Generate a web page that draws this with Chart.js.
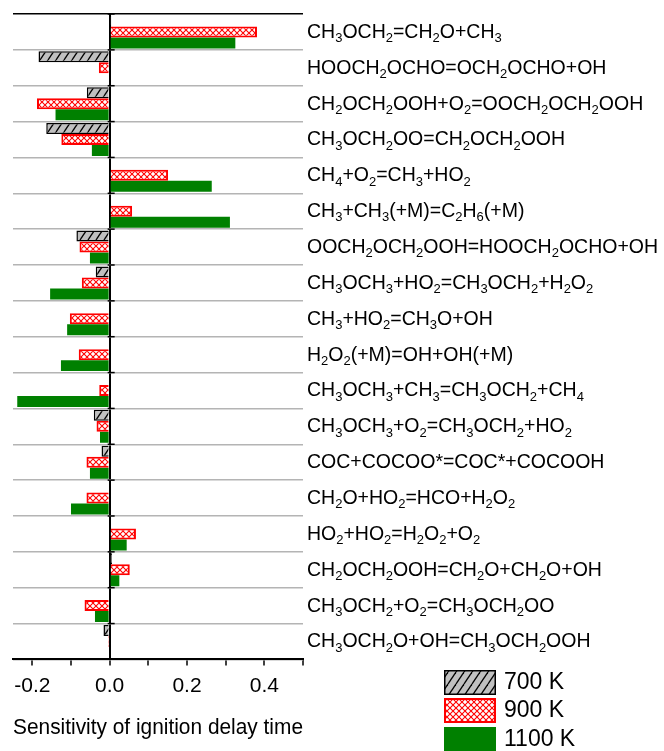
<!DOCTYPE html>
<html>
<head>
<meta charset="utf-8">
<script src="https://cdn.jsdelivr.net/npm/chart.js"></script>
<style>
  body { margin: 0; background: #fff; }
  #wrap { width: 664px; height: 751px; position: relative; }
</style>
</head>
<body>
<div id="wrap"><canvas id="sensChart"></canvas></div>
<script>
// reactions, top to bottom
var reactions = [
  'CH3OCH2=CH2O+CH3',
  'HOOCH2OCHO=OCH2OCHO+OH',
  'CH2OCH2OOH+O2=OOCH2OCH2OOH',
  'CH3OCH2OO=CH2OCH2OOH',
  'CH4+O2=CH3+HO2',
  'CH3+CH3(+M)=C2H6(+M)',
  'OOCH2OCH2OOH=HOOCH2OCHO+OH',
  'CH3OCH3+HO2=CH3OCH2+H2O2',
  'CH3+HO2=CH3O+OH',
  'H2O2(+M)=OH+OH(+M)',
  'CH3OCH3+CH3=CH3OCH2+CH4',
  'CH3OCH3+O2=CH3OCH2+HO2',
  'COC+COCOO*=COC*+COCOOH',
  'CH2O+HO2=HCO+H2O2',
  'HO2+HO2=H2O2+O2',
  'CH2OCH2OOH=CH2O+CH2O+OH',
  'CH3OCH2+O2=CH3OCH2OO',
  'CH3OCH2O+OH=CH3OCH2OOH'
];
var sens700 = [0.004, -0.184, -0.059, -0.164, 0, 0.003, -0.086, -0.036, 0, 0, 0, -0.041, -0.021, 0, 0, 0.006, 0, -0.016];
var sens900 = [0.381, -0.028, -0.188, -0.125, 0.151, 0.058, -0.078, -0.072, -0.103, -0.080, -0.027, -0.034, -0.060, -0.060, 0.068, 0.052, -0.065, -0.004];
var sens1100 = [0.325, 0, -0.140, -0.046, 0.264, 0.311, -0.051, -0.154, -0.110, -0.126, -0.239, -0.025, -0.051, -0.100, 0.044, 0.025, -0.038, 0];
var seriesNames = ['700 K', '900 K', '1100 K'];
var majorTicks = [-0.2, 0, 0.2, 0.4];

var FONT = "'Liberation Sans', Arial, sans-serif";
Chart.defaults.font.family = FONT;
Chart.defaults.color = '#000';

// fill patterns
function makeHatch() {
  var c = document.createElement('canvas');
  c.width = 8; c.height = 12;
  var g = c.getContext('2d');
  g.fillStyle = '#c0c0c0';
  g.fillRect(0, 0, 8, 12);
  g.strokeStyle = '#000';
  g.lineWidth = 1.3;
  [-8, 0, 8].forEach(function (dx) {
    g.beginPath();
    g.moveTo(dx, 12);
    g.lineTo(dx + 8, 0);
    g.stroke();
  });
  return g.createPattern(c, 'repeat');
}
function makeCross() {
  var c = document.createElement('canvas');
  c.width = 6; c.height = 6;
  var g = c.getContext('2d');
  g.fillStyle = '#fff';
  g.fillRect(0, 0, 6, 6);
  g.strokeStyle = '#ff0000';
  g.lineWidth = 1.1;
  g.beginPath();
  g.moveTo(0, 0); g.lineTo(6, 6);
  g.moveTo(6, 0); g.lineTo(0, 6);
  g.stroke();
  return g.createPattern(c, 'repeat');
}
var hatch = makeHatch();
var cross = makeCross();

// text with numeric subscripts
function drawChem(ctx, text, x, y, size) {
  var parts = text.match(/[0-9]+|[^0-9]+/g);
  var cx = x;
  parts.forEach(function (p) {
    var sub = /^[0-9]/.test(p);
    ctx.font = (sub ? Math.round(size * 0.68) : size) + 'px ' + FONT;
    ctx.fillText(p, cx, sub ? y + size * 0.22 : y);
    cx += ctx.measureText(p).width;
  });
}

var decor = {
  id: 'decor',
  afterDraw: function (chart) {
    var ctx = chart.ctx, xs = chart.scales.x, ys = chart.scales.y, area = chart.chartArea;
    ctx.save();
    // small ticks on the zero line
    var x0 = xs.getPixelForValue(0);
    var step = ys.getPixelForValue(1) - ys.getPixelForValue(0);
    ctx.strokeStyle = '#000';
    ctx.lineWidth = 1.5;
    for (var i = 0; i < reactions.length; i++) {
      var yb = ys.getPixelForValue(i) - step / 2;
      ctx.beginPath();
      ctx.moveTo(x0 - 2, yb);
      ctx.lineTo(x0 + 5, yb);
      ctx.stroke();
    }
    // reaction labels
    ctx.fillStyle = '#000';
    ctx.textBaseline = 'alphabetic';
    ctx.textAlign = 'left';
    reactions.forEach(function (r, i) {
      drawChem(ctx, r, area.right + 4, ys.getPixelForValue(i) + 6, 19.5);
    });
    // legend
    var lx = 444, ly = [670, 698, 727];
    chart.data.datasets.forEach(function (ds, i) {
      ctx.fillStyle = ds.backgroundColor;
      ctx.fillRect(lx, ly[i], 52, 25);
      if (ds.borderWidth) {
        ctx.strokeStyle = ds.borderColor;
        ctx.lineWidth = ds.borderWidth;
        ctx.strokeRect(lx + ds.borderWidth / 2, ly[i] + ds.borderWidth / 2, 52 - ds.borderWidth, 25 - ds.borderWidth);
      }
      ctx.fillStyle = '#000';
      ctx.font = '23px ' + FONT;
      ctx.textBaseline = 'middle';
      ctx.fillText(ds.label, 504, ly[i] + 13);
    });
    ctx.restore();
  }
};

new Chart(document.getElementById('sensChart'), {
  type: 'bar',
  data: {
    labels: reactions,
    datasets: [{
      label: seriesNames[0],
      data: sens700,
      backgroundColor: hatch,
      borderColor: '#000',
      borderWidth: 1.5
    }, {
      label: seriesNames[1],
      data: sens900,
      backgroundColor: cross,
      borderColor: '#ff0000',
      borderWidth: 2
    }, {
      label: seriesNames[2],
      data: sens1100,
      backgroundColor: '#008000',
      borderColor: '#008000',
      borderWidth: 0
    }]
  },
  options: {
    indexAxis: 'y',
    responsive: true,
    maintainAspectRatio: false,
    animation: false,
    categoryPercentage: 0.92,
    barPercentage: 1.0,
    layout: { padding: { left: 13, right: 361, top: 14, bottom: 10 } },
    plugins: {
      legend: { display: false },
      tooltip: { enabled: false }
    },
    scales: {
      x: {
        min: -0.25,
        max: 0.5,
        z: 1,
        ticks: {
          stepSize: 0.1,
          includeBounds: false,
          autoSkip: false,
          maxRotation: 0,
          padding: 8,
          font: { size: 21 },
          callback: function (v) {
            for (var k = 0; k < majorTicks.length; k++) {
              if (Math.abs(v - majorTicks[k]) < 1e-6) return majorTicks[k].toFixed(1);
            }
            return '';
          }
        },
        grid: {
          drawOnChartArea: true,
          drawTicks: true,
          tickLength: 6,
          tickWidth: 1.5,
          tickColor: '#000',
          color: function (c) {
            return c.tick && Math.abs(c.tick.value) < 1e-6 ? '#000' : 'rgba(0,0,0,0)';
          },
          lineWidth: 2
        },
        border: { display: true, color: '#000', width: 2 },
        title: {
          display: true,
          text: 'Sensitivity of ignition delay time',
          align: 'start',
          font: { size: 22 },
          padding: { top: 8, bottom: 0 }
        }
      },
      y: {
        ticks: { display: false },
        grid: {
          offset: true,
          drawTicks: false,
          lineWidth: 1.5,
          color: function (c) { return c.index === 0 ? '#000' : '#b4b4b4'; }
        },
        border: { display: false }
      }
    }
  },
  plugins: [decor]
});
</script>
</body>
</html>
